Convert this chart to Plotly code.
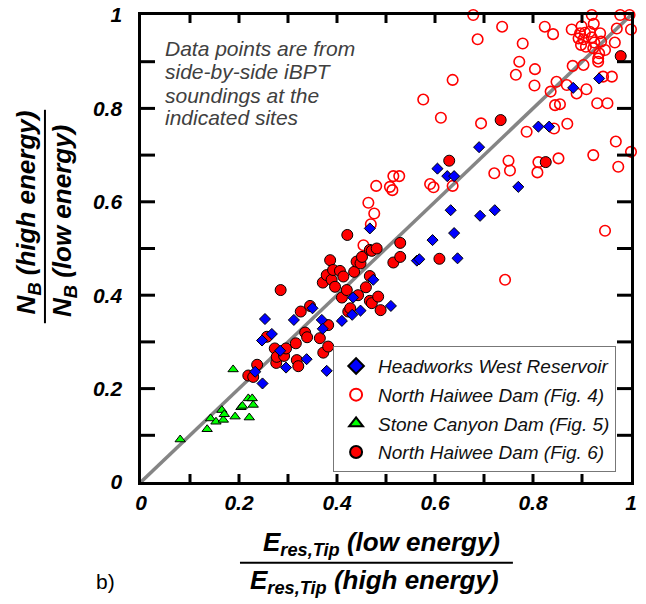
import plotly.graph_objects as go

# ---------------- data ----------------
hw_x = [0.233,0.247,0.248,0.253,0.267,0.284,0.296,0.312,0.338,0.350,0.369,0.371,0.379,0.410,0.431,0.433,
        0.448,0.467,0.474,0.510,0.563,0.568,0.595,0.605,0.625,0.639,0.632,0.639,0.646,0.690,0.692,0.722,
        0.770,0.811,0.833,0.882,0.935]
hw_y = [0.236,0.303,0.211,0.349,0.317,0.281,0.245,0.347,0.263,0.372,0.347,0.328,0.238,0.345,0.358,0.395,
        0.367,0.543,0.433,0.377,0.474,0.477,0.518,0.671,0.655,0.655,0.582,0.533,0.479,0.717,0.570,0.582,
        0.632,0.761,0.761,0.844,0.864]

nh4_x = [0.454,0.469,0.476,0.464,0.480,0.508,0.513,0.515,0.527,0.590,0.597,0.636,0.721,0.750,0.753,0.743,
         0.811,0.809,0.852,0.923,0.969,1.000,0.974,0.947,
         0.678,0.687,0.737,0.779,0.772,0.765,0.804,0.803,0.824,0.841,0.636,0.576,0.612,0.694,0.787,0.843,
         0.870,0.836,0.848,0.869,0.845,0.855,0.889,0.909,0.881,0.903,0.931,0.952,0.943,0.961,0.920,0.978,
         0.997,0.971,1.000,0.967,0.879,0.899,0.924,0.896,0.906,0.916,0.937,0.893,0.903,0.920,0.898,0.908,
         0.925,0.939,0.923,0.947,0.935,0.933,0.933]
nh4_y = [0.507,0.552,0.575,0.598,0.634,0.632,0.625,0.655,0.655,0.638,0.631,0.634,0.661,0.688,0.667,0.433,
         0.685,0.663,0.693,0.700,0.729,0.707,0.675,0.538,
         1.000,0.948,0.975,0.939,0.900,0.872,0.884,0.849,0.975,0.959,0.861,0.819,0.780,0.768,0.750,0.757,
         0.767,0.836,0.857,0.850,0.807,0.809,0.832,0.841,0.891,0.893,0.811,0.811,0.868,0.868,1.000,1.000,
         1.000,0.971,0.969,0.941,0.969,0.976,0.981,0.961,0.962,0.964,0.961,0.950,0.948,0.952,0.936,0.932,
         0.941,0.943,0.929,0.925,0.918,0.907,0.900]

sc_x = [0.080,0.135,0.142,0.153,0.165,0.168,0.170,0.188,0.192,0.204,0.207,0.219,0.221,0.227,0.229]
sc_y = [0.091,0.113,0.136,0.129,0.154,0.133,0.145,0.241,0.140,0.160,0.163,0.179,0.138,0.179,0.165]

nh6_x = [0.219,0.229,0.237,0.257,0.273,0.276,0.277,0.285,0.292,0.296,0.316,0.318,0.321,0.326,0.335,0.339,
         0.345,0.365,0.371,0.372,0.379,0.382,0.382,0.386,0.389,0.392,0.396,0.406,0.410,0.413,0.420,0.421,
         0.423,0.427,0.435,0.440,0.443,0.448,0.451,0.459,0.467,0.467,0.467,0.471,0.471,0.481,0.484,0.489,
         0.515,0.529,0.529,0.609,0.629,0.734,0.826,0.979]
nh6_y = [0.228,0.225,0.251,0.311,0.286,0.255,0.268,0.411,0.270,0.286,0.297,0.261,0.248,0.365,0.320,0.310,
         0.377,0.308,0.427,0.277,0.443,0.336,0.290,0.475,0.433,0.454,0.418,0.452,0.395,0.440,0.411,0.529,
         0.365,0.372,0.450,0.472,0.400,0.468,0.482,0.417,0.441,0.497,0.388,0.383,0.495,0.500,0.397,0.368,
         0.470,0.512,0.482,0.478,0.688,0.775,0.685,0.912]

line_x = [0, 1]
line_y = [0, 1]

# positions of the (inward) tick marks along each axis
tick_positions = [0.1, 0.2, 0.3, 0.4, 0.5, 0.6, 0.7, 0.8, 0.9]

note_lines = ["Data points are from", "side-by-side iBPT", "soundings at the", "indicated sites"]

FONT = "Liberation Sans, Arial, sans-serif"

fig = go.Figure()
fig.add_trace(go.Scatter(x=line_x, y=line_y, mode="lines", line=dict(color="#858585", width=3.5),
                         showlegend=False, hoverinfo="skip"))
fig.add_trace(go.Scatter(x=nh4_x, y=nh4_y, mode="markers", name="North Haiwee Dam (Fig. 4)",
                         legendrank=2, legendgroup="b", cliponaxis=False,
                         marker=dict(symbol="circle-open", size=10.5, color="#ff0000", line=dict(width=1.6))))
fig.add_trace(go.Scatter(x=sc_x, y=sc_y, mode="markers", name="Stone Canyon Dam (Fig. 5)",
                         legendrank=3, legendgroup="c", cliponaxis=False,
                         marker=dict(symbol="triangle-up", size=9, color="#00ff00",
                                     line=dict(color="black", width=1))))
fig.add_trace(go.Scatter(x=nh6_x, y=nh6_y, mode="markers", name="North Haiwee Dam (Fig. 6)",
                         legendrank=4, legendgroup="d", cliponaxis=False,
                         marker=dict(symbol="circle", size=11, color="#ff0000",
                                     line=dict(color="black", width=1))))
fig.add_trace(go.Scatter(x=hw_x, y=hw_y, mode="markers", name="Headworks West Reservoir",
                         legendrank=1, legendgroup="a", cliponaxis=False,
                         marker=dict(symbol="diamond", size=8.5, color="#0000ff",
                                     line=dict(color="black", width=1))))

tf = dict(family=FONT, size=21, color="black", weight="bold", style="italic")

main_axis = dict(range=[0, 1], showgrid=False, zeroline=False, showline=True, linecolor="black",
                 linewidth=3, mirror=True, ticks="", tick0=0, dtick=0.2, automargin=False,
                 fixedrange=True, tickfont=tf)
fig.update_layout(xaxis=dict(**main_axis),
                  yaxis=dict(**main_axis, ticksuffix="\u00a0\u00a0"))

# inward tick marks (positioned through the axes' own scales, lengths in pixels)
tick_line = dict(color="black", width=3)
shapes = []
for v in tick_positions:
    shapes.append(dict(type="line", xref="x", yref="y", x0=v, x1=v, ysizemode="pixel", yanchor=0,
                       y0=0, y1=8, line=tick_line, layer="above"))
    shapes.append(dict(type="line", xref="x", yref="y", x0=v, x1=v, ysizemode="pixel", yanchor=1,
                       y0=0, y1=-8, line=tick_line, layer="above"))
    shapes.append(dict(type="line", xref="x", yref="y", y0=v, y1=v, xsizemode="pixel", xanchor=0,
                       x0=0, x1=14, line=tick_line, layer="above"))
    shapes.append(dict(type="line", xref="x", yref="y", y0=v, y1=v, xsizemode="pixel", xanchor=1,
                       x0=0, x1=-14, line=tick_line, layer="above"))

# fraction bars of the axis titles
shapes.append(dict(type="line", xref="paper", yref="paper", x0=0.202, x1=0.759, y0=-0.173, y1=-0.173,
                   line=dict(color="black", width=2)))
shapes.append(dict(type="line", xref="paper", yref="paper", x0=-0.196, x1=-0.196, y0=0.340, y1=0.797,
                   line=dict(color="black", width=2)))

ann = []
for i, t in enumerate(note_lines):
    ann.append(dict(text=t, x=0.045, y=[0.929, 0.878, 0.827, 0.780][i], xref="paper", yref="paper",
                    xanchor="left", yanchor="middle", showarrow=False,
                    font=dict(family=FONT, size=21, color="#404040", style="italic")))

title_font = dict(family=FONT, size=26, color="black", weight="bold", style="italic")
ann.append(dict(text="E<sub>res,Tip</sub> (low energy)", x=0.49, y=-0.131, xref="paper", yref="paper",
                xanchor="center", yanchor="middle", showarrow=False, font=title_font))
ann.append(dict(text="E<sub>res,Tip</sub> (high energy)", x=0.476, y=-0.212, xref="paper", yref="paper",
                xanchor="center", yanchor="middle", showarrow=False, font=title_font))
ann.append(dict(text="N<sub>B</sub> (high energy)", x=-0.232, y=0.578, xref="paper", yref="paper",
                xanchor="center", yanchor="middle", showarrow=False, textangle=-90, font=title_font))
ann.append(dict(text="N<sub>B</sub> (low energy)", x=-0.157, y=0.559, xref="paper", yref="paper",
                xanchor="center", yanchor="middle", showarrow=False, textangle=-90, font=title_font))
ann.append(dict(text="b)", x=-0.073, y=-0.212, xref="paper", yref="paper",
                xanchor="center", yanchor="middle", showarrow=False,
                font=dict(family=FONT, size=21, color="black")))

fig.update_layout(
    width=646, height=604,
    margin=dict(l=141, r=15, t=15, b=122),
    paper_bgcolor="white", plot_bgcolor="white",
    annotations=ann, shapes=shapes,
    legend=dict(x=0.392, y=0.291, xanchor="left", yanchor="top",
                bgcolor="white", bordercolor="#777777", borderwidth=1,
                font=dict(family=FONT, size=19, color="#111111", style="italic"),
                traceorder="grouped", tracegroupgap=1, itemsizing="constant", itemwidth=34),
)

fig.write_html("out.html")
